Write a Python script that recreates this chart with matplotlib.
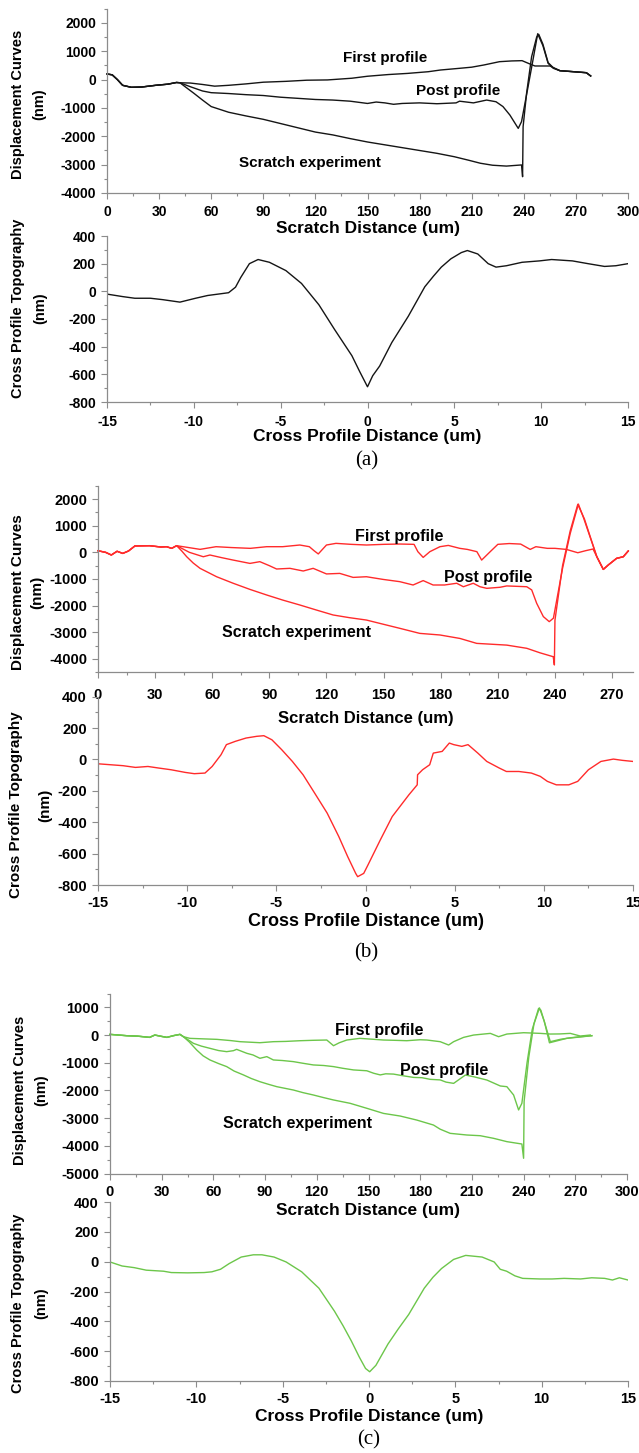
import matplotlib
matplotlib.use("Agg")
import matplotlib.pyplot as plt
from matplotlib.ticker import MultipleLocator
import numpy as np

# ---------------- data ----------------
# Panel (a) displacement curves
a_start_x = [0, 3, 6, 9, 14, 20, 28, 35, 40, 42]
a_start_y = [200, 170, 0, -200, -270, -260, -200, -160, -100, -110]

a_first_x = [48, 55, 62, 70, 80, 90, 103, 115, 127, 141, 150, 162, 173, 185, 192, 203, 210, 217, 226, 233, 239, 243.5, 246.4, 255, 260.8, 268.5, 276, 278.5]
a_first_y = [-120, -170, -230, -200, -150, -90, -60, -20, -10, 50, 120, 180, 220, 280, 340, 400, 440, 517, 634, 660, 670, 553, 482, 482, 316, 281, 245, 130]

a_post_x = [48, 55, 60, 70, 80, 90, 100, 110, 120, 130, 140, 150, 155, 160, 165, 170, 180, 190, 201, 203, 211, 218.6, 224, 228, 232, 236.8, 238.7, 242, 245, 248, 251, 254, 257, 260.8, 268.5, 276, 278.5]
a_post_y = [-250, -400, -460, -490, -530, -560, -620, -660, -700, -720, -760, -840, -790, -820, -870, -840, -820, -850, -820, -760, -820, -720, -780, -950, -1250, -1720, -1480, -400, 600, 1620, 1200, 577, 400, 316, 281, 245, 130]

a_scr_x = [45, 50, 55, 60, 65, 70, 80, 90, 100, 110, 120, 130, 140, 150, 160, 170, 180, 190, 200, 208, 215, 222, 230, 238.7, 239.3, 239.6, 241.6, 244.5, 247.4, 248.6, 251, 254, 257, 260.8, 268.5, 276, 278.5]
a_scr_y = [-250, -480, -720, -950, -1050, -1150, -1280, -1400, -1550, -1700, -1850, -1950, -2080, -2200, -2300, -2400, -2500, -2600, -2720, -2840, -2950, -3020, -3050, -3010, -3425, -1660, -480, 810, 1500, 1600, 1250, 600, 420, 316, 281, 245, 130]

# Panel (a) cross profile
a_cross_x = [-15, -14.1, -13.4, -12.5, -11.8, -10.8, -9.9, -9.2, -8.0, -7.6, -7.3, -6.8, -6.3, -5.65, -4.7, -3.8, -2.8, -1.9, -1.4, -0.9, -0.45, 0.0, 0.3, 0.7, 1.4, 2.35, 3.3, 3.8, 4.25, 4.8, 5.4, 5.75, 6.35, 6.95, 7.4, 8.0, 8.9, 9.9, 10.6, 11.8, 12.7, 13.65, 14.3, 15.0]
a_cross_y = [-20, -38, -50, -50, -60, -78, -50, -30, -10, 30, 100, 200, 230, 210, 150, 57, -97, -275, -370, -465, -580, -690, -610, -540, -370, -180, 33, 110, 175, 235, 280, 295, 270, 200, 175, 185, 210, 220, 230, 220, 200, 180, 185, 200]

# Panel (b) displacement curves
b_start_x = [0, 4, 7, 10, 13, 16, 19.4, 27, 33, 36, 38.7, 41.3]
b_start_y = [60, 0, -100, 40, -40, 50, 240, 250, 200, 212, 150, 250]

b_first_x = [53.6, 62, 70, 80, 88.6, 97, 106, 111, 113.5, 115.7, 118, 120, 125, 133, 141, 150, 158.5, 166, 168, 170.8, 174.3, 179.6, 184, 190, 194, 199, 201.5, 206, 210, 216, 222, 227, 230, 236, 240, 246, 252, 256, 260, 262, 265.4, 268, 272.4, 275.9, 278.5]
b_first_y = [112, 212, 180, 150, 212, 212, 275, 212, 60, -60, 120, 275, 337, 300, 275, 300, 312, 300, 25, -190, 25, 212, 260, 150, 110, 25, -290, 25, 300, 330, 310, 110, 212, 150, 150, 110, -15, 60, 125, -165, -640, -475, -225, -165, 50]

b_post_x = [48, 55.3, 58.8, 65, 71, 79.8, 85, 90, 93.8, 100.8, 107.8, 113, 120, 127, 134, 141, 149.7, 158.5, 165.5, 170.8, 176, 182, 188.4, 191.9, 197.1, 200.6, 204.2, 211.2, 214.7, 225.2, 227.8, 230.4, 233.9, 237, 239.2, 244, 248, 252.3, 255, 259.3, 262, 265.4, 268, 272.4, 275.9, 278.5]
b_post_y = [0, -165, -100, -200, -290, -415, -350, -500, -625, -600, -700, -600, -810, -790, -940, -915, -1015, -1100, -1225, -1060, -1225, -1225, -1160, -1290, -1160, -1290, -1350, -1310, -1260, -1290, -1410, -1910, -2410, -2600, -2470, -600, 700, 1810, 1300, 400, -165, -640, -475, -225, -165, 50]

b_scr_x = [44, 46.6, 50, 53.6, 62.3, 71, 79.8, 88.6, 97, 106, 115, 123.5, 132, 141, 150, 158.5, 169, 179.6, 190.1, 198.9, 214.7, 225.2, 232.2, 239.1, 239.7, 240, 244, 248, 252, 255.5, 259.3, 262, 265.4, 268, 272.4, 275.9, 278.5]
b_scr_y = [50, -165, -400, -600, -915, -1160, -1390, -1600, -1790, -1975, -2170, -2350, -2450, -2540, -2700, -2850, -3040, -3100, -3230, -3415, -3480, -3600, -3770, -3915, -4225, -2550, -500, 800, 1800, 1250, 420, -165, -640, -475, -225, -165, 50]

# Panel (b) cross profile
b_cross_x = [-15, -13.6, -12.9, -12.2, -11.6, -10.9, -10.1, -9.6, -9.0, -8.6, -8.1, -7.8, -7.3, -6.7, -6.1, -5.7, -5.25, -4.7, -4.1, -3.5, -2.85, -2.15, -1.5, -1.0, -0.55, -0.44, -0.1, 0.14, 0.83, 1.5, 2.43, 2.9, 2.92, 3.2, 3.6, 3.8, 4.3, 4.7, 4.95, 5.4, 5.75, 6.3, 6.8, 7.5, 7.9, 8.6, 9.3, 9.8, 10.2, 10.7, 11.4, 11.9, 12.5, 13.2, 13.9, 14.4, 15.0]
b_cross_y = [-28, -40, -51, -45, -55, -66, -83, -91, -87, -45, 30, 94, 115, 136, 147, 151, 125, 62, -13, -98, -215, -342, -491, -619, -726, -747, -726, -672, -513, -364, -226, -162, -98, -66, -34, 40, 51, 104, 94, 83, 94, 40, -13, -55, -77, -77, -87, -108, -140, -162, -162, -140, -66, -13, 2, -6, -13]

# Panel (c) displacement curves
c_start_x = [0, 5, 9.7, 16, 23, 26, 30, 33, 37, 40.6, 42.6]
c_start_y = [24, 0, -24, -40, -84, 0, -50, -84, -20, 24, -60]

c_first_x = [46.4, 55, 62, 70, 75.5, 87, 94.8, 102, 110.3, 118, 125.8, 129.7, 133, 137.4, 145, 152, 158.7, 165, 172.2, 180, 183.9, 191.6, 196.5, 199.4, 205.2, 211, 220.7, 225.5, 230.3, 240, 249.7, 255.5, 261, 267.1, 272.9, 278.7]
c_first_y = [-120, -140, -156, -200, -240, -277, -240, -230, -205, -190, -180, -385, -280, -180, -120, -150, -180, -190, -205, -170, -180, -240, -360, -240, -84, 0, 60, -60, 36, 84, 60, 36, 40, 60, -36, 0]

c_post_x = [48.4, 53, 58, 63, 67.7, 71.6, 73.5, 79.4, 83, 87, 91, 94.8, 100, 106.4, 112, 118, 124, 129.7, 135, 141.3, 149, 153, 156.8, 160, 164.5, 170, 176.1, 181, 185.8, 191.6, 195, 199.4, 206.2, 211, 218.7, 226.5, 230.3, 234.2, 237.1, 239, 242, 245, 248.7, 250, 255.5, 261.3, 267, 272.9, 279.6]
c_post_y = [-300, -400, -480, -560, -600, -565, -517, -660, -720, -840, -780, -900, -920, -960, -1020, -1080, -1100, -1140, -1200, -1260, -1290, -1380, -1440, -1400, -1410, -1470, -1530, -1540, -1600, -1620, -1700, -1745, -1445, -1505, -1625, -1840, -1865, -2165, -2705, -2465, -1000, 200, 962, 900, -240, -155, -100, -60, -24]

c_scr_x = [46, 50.3, 54, 58, 63, 67.7, 72, 77.4, 82, 87, 92, 96.8, 106.4, 112, 118, 124, 129.7, 139.3, 149, 158.7, 168.4, 178, 187.7, 191.6, 197.4, 207.1, 214.8, 222.6, 230.3, 239, 240, 240.3, 243, 246, 249.2, 252, 255, 260, 265, 272.9, 279.6]
c_scr_y = [-250, -540, -750, -900, -1030, -1140, -1300, -1440, -1570, -1685, -1780, -1865, -1985, -2080, -2165, -2260, -2345, -2465, -2645, -2830, -2925, -3070, -3250, -3400, -3550, -3610, -3635, -3730, -3850, -3935, -4450, -2400, -800, 400, 980, 500, -280, -200, -120, -70, -24]

# Panel (c) cross profile
c_cross_x = [-15, -14.3, -13.6, -12.9, -11.9, -11.45, -10.5, -9.55, -9.1, -8.6, -8.1, -7.4, -6.7, -6.2, -5.5, -4.8, -3.9, -2.9, -2.0, -1.5, -1.03, -0.56, -0.2, 0.04, 0.4, 1.1, 1.7, 2.3, 3.2, 3.7, 4.2, 4.9, 5.6, 6.55, 7.25, 7.6, 7.97, 8.45, 8.9, 9.9, 10.6, 11.3, 12.25, 12.9, 13.65, 14.1, 14.5, 15.0]
c_cross_y = [-2, -29, -40, -57, -64, -73, -75, -73, -68, -51, -13, 31, 46, 46, 31, -2, -68, -178, -332, -430, -530, -640, -716, -738, -695, -552, -450, -354, -178, -105, -46, 15, 42, 31, -2, -51, -64, -95, -112, -116, -116, -112, -116, -108, -112, -123, -108, -123]

labels = ["First profile", "Post profile", "Scratch experiment"]

# ---------------- figure ----------------
plt.rcParams['font.family'] = ['Liberation Sans', 'DejaVu Sans']
plt.rcParams['font.weight'] = 'bold'
plt.rcParams['axes.unicode_minus'] = False

W, H = 639, 1453
fig = plt.figure(figsize=(W / 100, H / 100), dpi=100)
GRAY = '#8c8c8c'


def add_ax(l, r, t, b):
    ax = fig.add_axes([l / W, 1 - b / H, (r - l) / W, (b - t) / H])
    ax._px = (l, r, t, b)
    return ax


def style(ax, xlim, ylim, xmaj, xmin, ymaj, ymin, fs, xpad, ypad=4):
    ax.set_xlim(*xlim)
    ax.set_ylim(*ylim)
    for s in ['top', 'right']:
        ax.spines[s].set_visible(False)
    for s in ['left', 'bottom']:
        ax.spines[s].set_color(GRAY)
        ax.spines[s].set_linewidth(0.9)
    ax.xaxis.set_major_locator(MultipleLocator(xmaj))
    ax.xaxis.set_minor_locator(MultipleLocator(xmin))
    ax.yaxis.set_major_locator(MultipleLocator(ymaj))
    ax.yaxis.set_minor_locator(MultipleLocator(ymin))
    ax.tick_params(which='both', direction='out', color=GRAY, width=0.8,
                   labelsize=fs)
    ax.tick_params(which='major', length=4)
    ax.tick_params(which='minor', length=2.5)
    ax.tick_params(axis='x', pad=xpad)
    ax.tick_params(axis='y', pad=ypad)
    ax.patch.set_alpha(0)


def xlabel(ax, text, py, fs):
    l, r, t, b = ax._px
    ax.set_xlabel(text, fontsize=fs, fontweight='bold')
    ax.xaxis.set_label_coords(0.5, (b - py) / (b - t))
    ax.xaxis.label.set_va('center')


def ylabel2(line1, x1, line2, x2, py, fs):
    fig.text(x1 / W, 1 - py / H, line1, rotation=90, ha='center', va='center',
             fontsize=fs, fontweight='bold')
    fig.text(x2 / W, 1 - py / H, line2, rotation=90, ha='center', va='center',
             fontsize=fs, fontweight='bold')


def disp_panel(ax, color, start_x, start_y, curves, ann_pos, fs_ann):
    for (cx, cy) in curves:
        ax.plot(list(start_x) + list(cx), list(start_y) + list(cy),
                color=color, lw=1.0, clip_on=False)
    for lab, (tx, ty) in zip(labels, ann_pos):
        ax.text(tx, ty, lab, ha='center', va='center', fontsize=fs_ann,
                fontweight='bold', color='black')


SERIF = ['Liberation Serif', 'DejaVu Serif']

# ---- (a)
ax1 = add_ax(107, 628, 8.8, 193)
style(ax1, (0, 300), (-4000, 2500), 30, 15, 1000, 500, 10, 5)
disp_panel(ax1, '#151515', a_start_x, a_start_y,
           [(a_first_x, a_first_y), (a_post_x, a_post_y), (a_scr_x, a_scr_y)],
           [(160, 765), (202, -400), (117, -2940)], 11)
xlabel(ax1, 'Scratch Distance (um)', 229, 12.5)
ylabel2('Displacement Curves', 18, '(nm)', 39, 104, 10.5)

ax2 = add_ax(107, 628, 236, 402)
style(ax2, (-15, 15), (-800, 400), 5, 2.5, 200, 100, 10, 5)
ax2.plot(a_cross_x, a_cross_y, color='#151515', lw=1.0)
xlabel(ax2, 'Cross Profile Distance (um)', 436, 12.5)
ylabel2('Cross Profile Topography', 18, '(nm)', 40, 308, 10.5)
fig.text(367 / W, 1 - 461 / H, '(a)', ha='center', va='center', fontsize=15,
         fontweight='normal', family=SERIF)

# ---- (b)
RED = '#ff2b2b'
ax3 = add_ax(98, 633, 485.7, 672.3)
style(ax3, (0, 281), (-4500, 2500), 30, 15, 1000, 500, 10.5, 7)
disp_panel(ax3, RED, b_start_x, b_start_y,
           [(b_first_x, b_first_y), (b_post_x, b_post_y), (b_scr_x, b_scr_y)],
           [(158, 611), (205, -952), (104, -2990)], 11.5)
xlabel(ax3, 'Scratch Distance (um)', 719, 12)
ylabel2('Displacement Curves', 18, '(nm)', 37, 592, 11)

ax4 = add_ax(98, 633, 696.6, 885)
style(ax4, (-15, 15), (-800, 400), 5, 2.5, 200, 100, 10.5, 4)
ax4.plot(b_cross_x, b_cross_y, color=RED, lw=1.0)
xlabel(ax4, 'Cross Profile Distance (um)', 921, 13)
ylabel2('Cross Profile Topography', 16, '(nm)', 45, 805, 11)
fig.text(366 / W, 1 - 953 / H, '(b)', ha='center', va='center', fontsize=15,
         fontweight='normal', family=SERIF)

# ---- (c)
GREEN = '#6cc64a'
ax5 = add_ax(110, 627, 993.5, 1173.5)
style(ax5, (0, 300), (-5000, 1500), 30, 15, 1000, 500, 10.5, 4)
disp_panel(ax5, GREEN, c_start_x, c_start_y,
           [(c_first_x, c_first_y), (c_post_x, c_post_y), (c_scr_x, c_scr_y)],
           [(156, 180), (194, -1264), (109, -3177)], 11.5)
xlabel(ax5, 'Scratch Distance (um)', 1210, 12.5)
ylabel2('Displacement Curves', 20, '(nm)', 41, 1090, 10.5)

ax6 = add_ax(110, 628, 1202, 1381)
style(ax6, (-15, 15), (-800, 400), 5, 2.5, 200, 100, 10.5, 4)
ax6.plot(c_cross_x, c_cross_y, color=GREEN, lw=1.0)
xlabel(ax6, 'Cross Profile Distance (um)', 1417, 12.5)
ylabel2('Cross Profile Topography', 18, '(nm)', 41, 1303, 10.5)
fig.text(369 / W, 1 - 1440 / H, '(c)', ha='center', va='center', fontsize=15,
         fontweight='normal', family=SERIF)

fig.savefig('out.png', dpi=100)
